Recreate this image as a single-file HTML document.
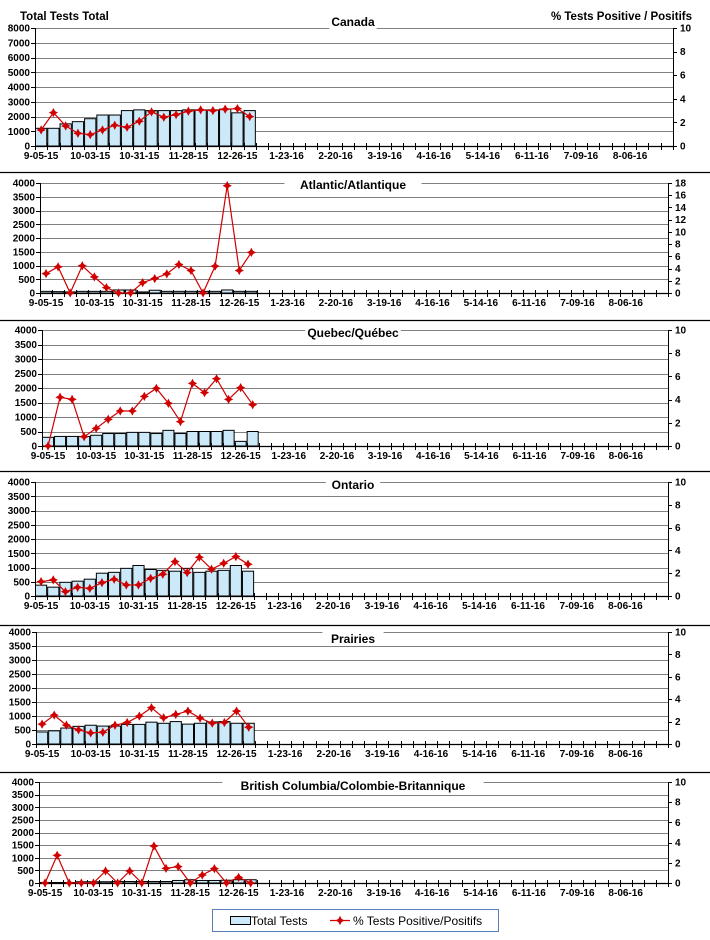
<!DOCTYPE html>
<html><head><meta charset="utf-8">
<style>
html,body{margin:0;padding:0;background:#fff;}
svg{display:block;font-family:"Liberation Sans",Arial,sans-serif;}
</style></head>
<body>
<svg id="c" width="710" height="940" xmlns="http://www.w3.org/2000/svg"></svg>
<script>
var NS="http://www.w3.org/2000/svg",svg=document.getElementById('c');
function el(t,a,txt){var e=document.createElementNS(NS,t);for(var k in a)e.setAttribute(k,a[k]);if(txt!==undefined)e.textContent=txt;svg.appendChild(e);return e;}
var xl=["9-05-15","10-03-15","10-31-15","11-28-15","12-26-15","1-23-16","2-20-16","3-19-16","4-16-16","5-14-16","6-11-16","7-09-16","8-06-16"];
var panels=[
{t:"Canada",L:35,R:673,T:28,B:146,lmax:8000,lstep:1000,rmax:10,rstep:2,ty:26,
 bars:[1200,1200,1500,1650,1850,2100,2100,2400,2450,2400,2400,2400,2450,2450,2450,2500,2250,2400],
 pct:[1.36,2.83,1.7,1.08,0.96,1.36,1.76,1.59,2.1,2.89,2.44,2.66,2.95,3.06,3.0,3.12,3.17,2.49]},
{t:"Atlantic/Atlantique",L:40,R:668,T:183,B:293,lmax:4000,lstep:500,rmax:18,rstep:2,ty:189,
 bars:[60,50,40,60,60,60,110,110,40,100,60,60,60,60,60,110,60,60],
 pct:[3.18,4.28,0,4.45,2.63,0.88,0,0,1.7,2.36,3.13,4.66,3.68,0,4.39,17.56,3.68,6.64]},
{t:"Quebec/Québec",L:42,R:668,T:330,B:446,lmax:4000,lstep:500,rmax:10,rstep:2,ty:337,
 bars:[300,330,330,330,370,430,430,470,470,430,540,430,500,500,500,540,160,500],
 pct:[0,4.2,4.02,0.8,1.52,2.3,3.02,3.02,4.28,4.97,3.68,2.1,5.4,4.6,5.8,4.02,5.03,3.56]},
{t:"Ontario",L:35,R:668,T:482,B:596,lmax:4000,lstep:500,rmax:10,rstep:2,ty:489,
 bars:[380,310,480,520,590,800,830,970,1070,930,900,870,970,830,870,900,1070,870],
 pct:[1.26,1.41,0.38,0.76,0.67,1.17,1.47,0.97,0.97,1.55,1.91,3.02,2.05,3.4,2.35,2.87,3.46,2.79]},
{t:"Prairies",L:36,R:668,T:632,B:744,lmax:4000,lstep:500,rmax:10,rstep:2,ty:643,
 bars:[430,470,570,630,670,640,640,700,700,780,740,800,710,740,790,800,740,740],
 pct:[1.77,2.58,1.68,1.26,0.99,1.05,1.68,1.92,2.49,3.24,2.34,2.64,2.94,2.31,1.86,1.92,2.94,1.5]},
{t:"British Columbia/Colombie-Britannique",L:39,R:668,T:782,B:883,lmax:4000,lstep:500,rmax:10,rstep:2,ty:790,
 bars:[20,20,20,50,50,50,60,60,60,60,60,100,130,100,100,110,130,130],
 pct:[0,2.74,0,0,0,1.19,0,1.19,0,3.66,1.45,1.62,0,0.79,1.42,0,0.56,0]}
];
[172,320,471,625,772].forEach(function(y){el('line',{x1:0,x2:710,y1:y+.5,y2:y+.5,stroke:'#000','stroke-width':1.3});});
el('text',{x:20,y:20,'font-size':11.5,'font-weight':'bold'},"Total Tests Total");
el('text',{x:692,y:20,'font-size':11.5,'font-weight':'bold','text-anchor':'end'},"% Tests Positive / Positifs");
function star(x,y,col){var r=4,s=1.4;el('polygon',{points:[x,y-r,x+s,y-s,x+r,y,x+s,y+s,x,y+r,x-s,y+s,x-r,y,x-s,y-s].join(' '),fill:col,stroke:col,'stroke-width':.6});}
panels.forEach(function(p){
 var h=p.B-p.T,w=(p.R-p.L)/52;
 var n=p.lmax/p.lstep;
 for(var i=1;i<=n;i++){var y=Math.round(p.B-h*i/n)+.5;el('line',{x1:p.L,x2:p.R,y1:y,y2:y,stroke:'#808080','stroke-width':1});}
 for(var i=0;i<=n;i++){var y=p.B-h*i/n;el('line',{x1:p.L-4,x2:p.L,y1:Math.round(y)+.5,y2:Math.round(y)+.5,stroke:'#000'});
  el('text',{x:p.L-5,y:y+3.5,'font-size':10,'font-weight':'bold','text-anchor':'end',fill:'#000'},String(i*p.lstep));}
 var rn=p.rmax/p.rstep;
 for(var i=0;i<=rn;i++){var y=p.B-h*i/rn;el('line',{x1:p.R,x2:p.R+4,y1:Math.round(y)+.5,y2:Math.round(y)+.5,stroke:'#000'});
  el('text',{x:p.R+7,y:y+3.5,'font-size':10,'font-weight':'bold',fill:'#000'},String(i*p.rstep));}
 p.bars.forEach(function(v,i){var bh=v/p.lmax*h;el('rect',{x:p.L+w*i+.5,y:p.B-bh,width:w-1,height:bh,fill:'#cce9fa',stroke:'#000','stroke-width':1});});
 var tw=p.t.length*6.9+6;
 el('rect',{x:353-tw/2,y:p.ty-11,width:tw,height:14,fill:'#fff'});
 el('text',{x:353,y:p.ty,'font-size':12,'font-weight':'bold','text-anchor':'middle'},p.t);
 el('line',{x1:p.L+.5,x2:p.L+.5,y1:p.T,y2:p.B,stroke:'#000'});
 el('line',{x1:p.R+.5,x2:p.R+.5,y1:p.T,y2:p.B,stroke:'#000'});
 el('line',{x1:p.L,x2:p.R,y1:p.B+.5,y2:p.B+.5,stroke:'#000','stroke-width':1.2});
 for(var i=0;i<=52;i++){var x=Math.round(p.L+w*i)+.5;el('line',{x1:x,x2:x,y1:p.B-3,y2:p.B+4,stroke:'#000'});}
 xl.forEach(function(s,k){el('text',{x:p.L+w*(4*k+0.5),y:p.B+13,'font-size':10,'font-weight':'bold','text-anchor':'middle'},s);});
 var pts=p.pct.map(function(v,i){return [p.L+w*(i+.5),p.B-v/p.rmax*h];});
 el('polyline',{points:pts.map(function(q){return q.join(',');}).join(' '),fill:'none',stroke:'#d00000','stroke-width':1.2});
 pts.forEach(function(q){star(q[0],q[1],'#d00000');});
});
el('rect',{x:212.5,y:909.5,width:286,height:22,fill:'#fff',stroke:'#5a7fb8','stroke-width':1});
el('rect',{x:230.5,y:916.5,width:20,height:8,fill:'#cce9fa',stroke:'#000'});
el('text',{x:251,y:925,'font-size':12},"Total Tests");
el('line',{x1:330,x2:350,y1:920.5,y2:920.5,stroke:'#d00000','stroke-width':1.2});
star(340,920.5,'#d00000');
el('text',{x:353,y:925,'font-size':12},"% Tests Positive/Positifs");
</script>
</body></html>
